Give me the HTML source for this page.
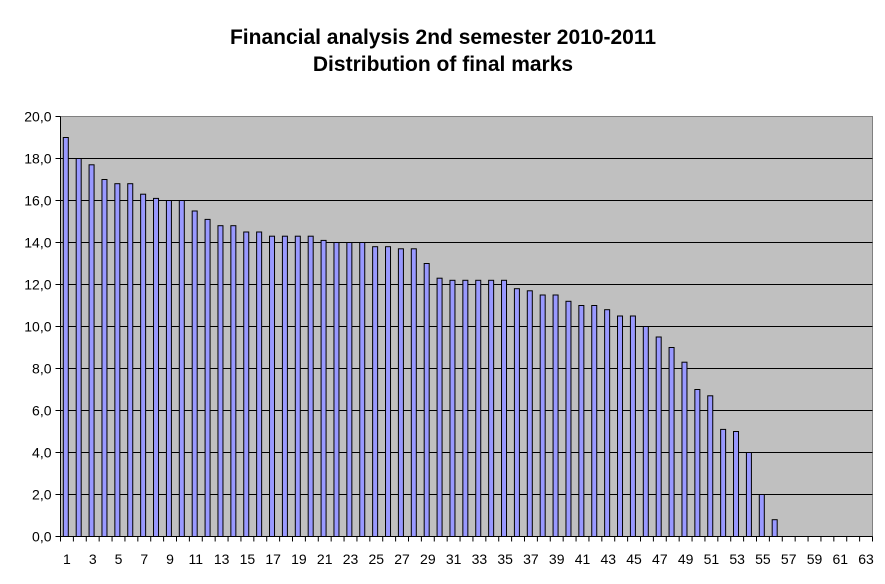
<!DOCTYPE html>
<html><head><meta charset="utf-8"><style>
body{margin:0;background:#fff;width:885px;height:584px;overflow:hidden}
svg{display:block;font-family:"Liberation Sans",Arial,sans-serif}
</style></head><body>
<svg id="c" width="885" height="584" xmlns="http://www.w3.org/2000/svg">
<text x="443" y="44" text-anchor="middle" font-size="21" font-weight="bold">Financial analysis 2nd semester 2010-2011</text>
<text x="443" y="71" text-anchor="middle" font-size="21" font-weight="bold">Distribution of final marks</text>
<rect x="60.5" y="116.5" width="812" height="420" fill="#c0c0c0" stroke="#808080"/>
</svg>
<script>
var s=document.getElementById('c'),ns='http://www.w3.org/2000/svg';
function el(t,a,txt){var e=document.createElementNS(ns,t);for(var k in a)e.setAttribute(k,a[k]);if(txt!=null)e.textContent=txt;s.appendChild(e);return e;}
var L=60.5,R=872.5,T=116.5,B=536.5,cw=(R-L)/63;
for(var i=0;i<=10;i++){var y=B-i*42;
 if(i>0&&i<10)el('line',{x1:L,x2:R,y1:y,y2:y,stroke:'#000','stroke-width':1});
 el('line',{x1:L-5,x2:L,y1:y,y2:y,stroke:'#000'});
 el('text',{x:L-9,y:y+5,'text-anchor':'end','font-size':14},(i*2)+',0');}
var v=[19,18,17.7,17,16.8,16.8,16.3,16.1,16,16,15.5,15.1,14.8,14.8,14.5,14.5,14.3,14.3,14.3,14.3,14.1,14,14,14,13.8,13.8,13.7,13.7,13,12.3,12.2,12.2,12.2,12.2,12.2,11.8,11.7,11.5,11.5,11.2,11,11,10.8,10.5,10.5,10,9.5,9,8.3,7,6.7,5.1,5,4,2,0.8];
v.forEach(function(d,i){var x=L+i*cw+2.8,h=d*21;el('rect',{x:x,y:B-h,width:5,height:h,fill:'#9999ff',stroke:'#000','stroke-width':1});});
el('line',{x1:L,x2:L,y1:T,y2:B+1,stroke:'#000'});
el('line',{x1:L,x2:R,y1:B,y2:B,stroke:'#000'});
for(var i=0;i<=63;i++){var x=L+i*cw;el('line',{x1:x,x2:x,y1:B,y2:B+5,stroke:'#000'});}
for(var i=1;i<=63;i+=2){el('text',{x:L+(i-0.5)*cw,y:564,'text-anchor':'middle','font-size':14},i);}
</script>
</body></html>
